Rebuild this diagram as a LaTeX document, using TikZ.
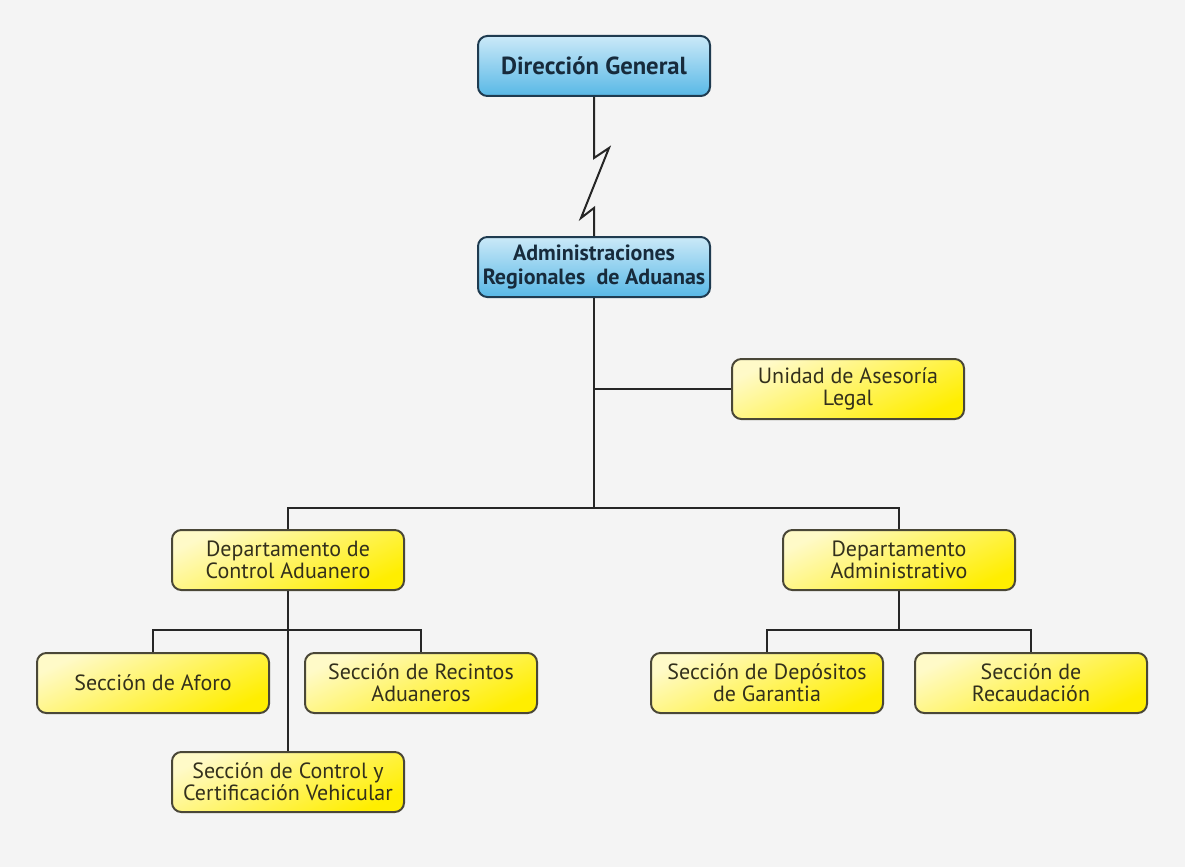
\documentclass[tikz,border=0pt]{standalone}
\usepackage{fontspec}
\setmainfont{PT Sans}
\usepackage{tikz}

\definecolor{fondo}{HTML}{F4F4F4}
\definecolor{conector}{HTML}{262626}
\definecolor{borde}{HTML}{4A4737}
\definecolor{bordeazul}{HTML}{1F3B50}
\definecolor{azularriba}{HTML}{CBE9F8}
\definecolor{azulabajo}{HTML}{58B8E6}
\definecolor{amarilloarriba}{HTML}{FFFAC8}
\definecolor{amarilloabajo}{HTML}{FFEE00}
\definecolor{textoazul}{HTML}{172B3C}
\definecolor{textoamarillo}{HTML}{33301C}

\tikzset{
  caja/.style={draw=borde, line width=1.5pt, rounded corners=7pt,
    minimum width=174pt, minimum height=45pt, inner sep=2pt,
    align=center, font=\fontsize{16.5}{16.5}\selectfont},
  azul/.style={caja, draw=bordeazul, top color=azularriba,
    bottom color=azulabajo, text=textoazul,
    font=\bfseries\fontsize{16.5}{18}\selectfont},
  amarilla/.style={caja, top color=amarilloarriba,
    bottom color=amarilloabajo, shading angle=25, text=textoamarillo},
  linea/.style={draw=conector, line width=1.5pt}
}

\begin{document}
\begin{tikzpicture}[x=0.75pt,y=-0.75pt]
  \fill[fondo] (0,0) rectangle (1185,867);
  \useasboundingbox (0,0) rectangle (1185,867);

  % direccion y administraciones
  \node[azul, font=\bfseries\fontsize{18.5}{20}\selectfont] (dg) at (594,66) {Dirección General};
  \node[azul] (ara) at (594,267) {Administraciones\\Regionales\ \ de Aduanas};
  \node[amarilla] (ual) at (848,389) {Unidad de Asesoría\\Legal};

  % departamentos
  \node[amarilla] (dca) at (288,560) {Departamento de\\Control Aduanero};
  \node[amarilla] (dad) at (899,560) {Departamento\\Administrativo};

  % secciones
  \node[amarilla] (afo) at (153,683) {Sección de Aforo};
  \node[amarilla] (rec) at (421,683) {Sección de Recintos\\Aduaneros};
  \node[amarilla] (ccv) at (288,782) {Sección de Control y\\Certificación Vehicular};
  \node[amarilla] (dep) at (767,683) {Sección de Depósitos\\de Garantia};
  \node[amarilla] (rca) at (1031,683) {Sección de\\Recaudación};

  \coordinate (bar) at (594,508);
  \coordinate (lbar) at (288,630);
  \coordinate (rbar) at (899,630);

  \draw[linea] (dg.south) -- ++(0,61) -- ++(15,-10)
  -- ++(-28,70) -- ++(13,-10) -- (ara.north);
  \draw[linea] (ara.south) -- (bar);
  \draw[linea] (ara.south |- ual.west) -- (ual.west);
  \draw[linea] (dca.north) |- (bar) -| (dad.north);
  \draw[linea] (dca.south) -- (ccv.north);
  \draw[linea] (afo.north) |- (lbar) -| (rec.north);
  \draw[linea] (dad.south) -- (rbar);
  \draw[linea] (dep.north) |- (rbar) -| (rca.north);
\end{tikzpicture}
\end{document}
